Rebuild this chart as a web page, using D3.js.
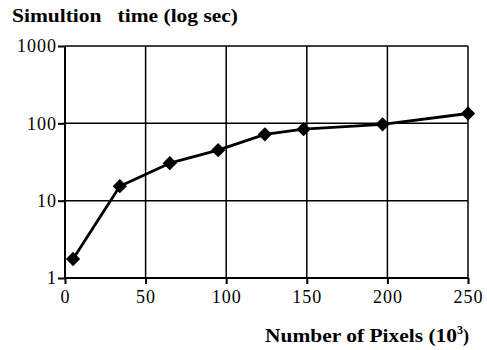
<!DOCTYPE html>
<html>
<head>
<meta charset="utf-8">
<script src="https://cdn.jsdelivr.net/npm/d3@7"></script>
<style>
  body { margin: 0; background: #fff; }
  text { font-family: "Liberation Serif", "Times New Roman", serif; fill: #000; }
</style>
</head>
<body>
<div id="canvas"></div>
<script>
// values
var pixels = [5, 34, 65, 95, 124, 148, 197, 250];
var times = [1.76, 15.4, 30.5, 45, 72, 84, 97, 134];
var xTicks = [0, 50, 100, 150, 200, 250];
var yTicks = [1, 10, 100, 1000];

var width = 487, height = 350;
var mLeft = 65, mRight = 468, mTop = 46, mBottom = 278;

var svg = d3.select('#canvas').append('svg')
    .attr('width', width)
    .attr('height', height);

var x = d3.scaleLinear().domain([0, 250]).range([mLeft, mRight]);
var y = d3.scaleLog().domain([1, 1000]).range([mBottom, mTop]);

// grid
svg.selectAll('line.vgrid')
    .data(xTicks)
    .enter().append('line')
    .attr('class', 'vgrid')
    .attr('x1', function (d) { return x(d); })
    .attr('x2', function (d) { return x(d); })
    .attr('y1', mTop)
    .attr('y2', mBottom)
    .attr('stroke', '#000')
    .attr('stroke-width', 1.5);

svg.selectAll('line.hgrid')
    .data(yTicks)
    .enter().append('line')
    .attr('class', 'hgrid')
    .attr('x1', mLeft)
    .attr('x2', mRight)
    .attr('y1', function (d) { return y(d); })
    .attr('y2', function (d) { return y(d); })
    .attr('stroke', '#000')
    .attr('stroke-width', 1.5);

// axes
var xAxis = d3.axisBottom(x).tickValues(xTicks).tickSize(6).tickPadding(4);
var yAxis = d3.axisLeft(y).tickValues(yTicks).tickFormat(d3.format('d')).tickSize(7).tickPadding(2);

var gx = svg.append('g')
    .attr('transform', 'translate(0,' + mBottom + ')')
    .call(xAxis);
var gy = svg.append('g')
    .attr('transform', 'translate(' + mLeft + ',0)')
    .call(yAxis);

[gx, gy].forEach(function (g) {
    g.select('.domain').attr('stroke', '#000').attr('stroke-width', 2);
    g.selectAll('.tick line').attr('stroke', '#000').attr('stroke-width', 2);
    g.selectAll('.tick text')
        .style('font-family', '"Liberation Serif", serif')
        .style('font-size', '18px')
        .style('letter-spacing', '1px')
        .attr('fill', '#000');
});
gy.select('.domain').attr('d', 'M0,' + mTop + 'V' + mBottom);
gx.select('.domain').attr('d', 'M' + mLeft + ',0H' + mRight);
gx.selectAll('.tick text').attr('dy', null).attr('y', 25);
gy.selectAll('.tick text').attr('x', -8);

// line
var line = d3.line()
    .x(function (d, i) { return x(pixels[i]); })
    .y(function (d) { return y(d); });

svg.append('path')
    .datum(times)
    .attr('d', line)
    .attr('fill', 'none')
    .attr('stroke', '#000')
    .attr('stroke-width', 2.8)
    .attr('stroke-linejoin', 'round');

// diamond markers
svg.selectAll('path.marker')
    .data(times)
    .enter().append('path')
    .attr('class', 'marker')
    .attr('d', d3.symbol().type(d3.symbolDiamond2).size(130))
    .attr('transform', function (d, i) { return 'translate(' + x(pixels[i]) + ',' + y(d) + ')'; })
    .attr('fill', '#000');

// titles
svg.append('text')
    .attr('x', 12)
    .attr('y', 22)
    .style('font-size', '18px')
    .style('font-weight', 'bold')
    .attr('xml:space', 'preserve')
    .attr('textLength', 226)
    .attr('lengthAdjust', 'spacingAndGlyphs')
    .text('Simultion   time (log sec)');

var xl = svg.append('text')
    .attr('x', 265)
    .attr('y', 342)
    .style('font-size', '18px')
    .style('font-weight', 'bold');
xl.append('tspan').attr('textLength', 192).attr('lengthAdjust', 'spacingAndGlyphs').text('Number of Pixels (10');
xl.append('tspan').attr('dy', -8).style('font-size', '12px').text('3');
xl.append('tspan').attr('dy', 8).text(')');
</script>
</body>
</html>
